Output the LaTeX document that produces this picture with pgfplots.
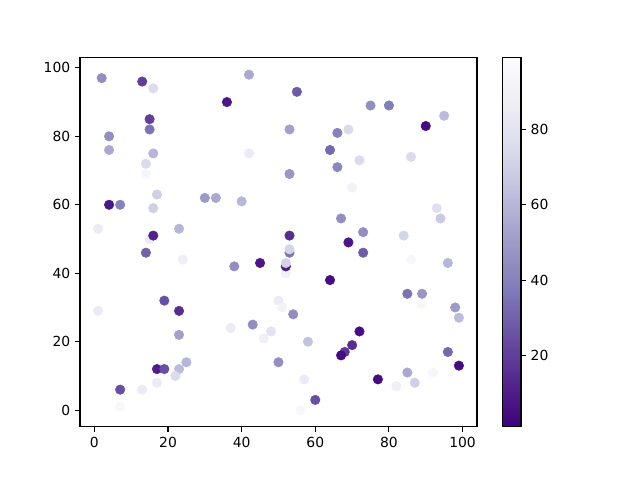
\documentclass[border=0pt]{standalone}
\usepackage{pgfplots}
\pgfplotsset{compat=1.18}
\usepackage{pgfplotstable}
\usepackage{fontspec}
\setmainfont{DejaVu Sans}
\pgfplotstableread{
x y c
2 97 45
13 96 20
16 94 75
42 98 55
36 90 8
15 85 20
15 82 35
4 80 45
4 76 55
16 75 60
42 75 85
14 72 75
14 69 95
17 63 70
16 59 70
4 60 8
7 60 40
30 62 50
33 62 55
40 61 60
1 53 85
23 53 60
15 50 85
16 51 12
55 93 28
75 89 45
80 89 38
95 86 62
90 83 5
53 82 52
66 81 40
69 82 75
64 76 32
72 73 75
86 74 75
66 71 42
53 69 48
70 65 90
93 59 78
94 56 68
67 56 45
73 52 45
84 51 72
53 51 15
69 49 8
14 46 30
24 44 88
38 42 45
45 43 8
50 32 85
51 30 90
1 29 85
19 32 25
23 29 15
23 22 52
37 24 85
43 25 45
48 23 80
46 21 88
50 14 45
17 12 10
19 12 25
23 12 62
25 14 60
22 10 75
17 8 85
13 6 85
7 6 25
7 1 95
73 46 28
53 46 35
53 47 72
52 40 90
52 42 10
52 43 72
86 44 95
96 43 60
64 38 5
85 34 35
89 34 48
89 31 95
98 30 50
99 27 62
54 28 45
58 20 65
72 23 5
70 19 15
68 17 18
67 16 5
96 17 32
99 13 5
77 9 5
85 11 55
87 8 70
92 11 95
82 7 88
57 9 85
60 3 25
56 0 95
}\pts
\begin{document}
\begin{tikzpicture}
\path[use as bounding box] (0,0) rectangle (460.8pt,345.6pt);
\begin{axis}[
  at={(57.6pt,38.2pt)}, anchor=south west,
  scale only axis, width=285.8pt, height=265.7pt,
  xmin=-3.9, xmax=103.9, ymin=-4.9, ymax=102.9,
  xtick={0,20,40,60,80,100}, ytick={0,20,40,60,80,100},
  xtick pos=bottom, ytick pos=left,
  tick align=outside, major tick length=3.5pt,
  tick style={black, line width=0.8pt},
  axis line style={line width=0.8pt},
  every tick label/.append style={font=\fontsize{10}{12}\selectfont},
  /pgf/number format/assume math mode=true,
  colormap={purplesr}{rgb255=(63,0,125) rgb255=(84,39,143) rgb255=(106,81,163) rgb255=(128,125,186) rgb255=(158,154,200) rgb255=(188,189,220) rgb255=(218,218,235) rgb255=(239,237,245) rgb255=(252,251,253)},
  point meta min=1, point meta max=99,
  colorbar,
  colorbar style={
    at={(1.0654,0)}, anchor=south west,
    width=13pt,
    ytick={20,40,60,80},
    ytick pos=right, yticklabel pos=right,
    tick align=outside, major tick length=3.5pt,
    tick style={black, line width=0.8pt},
    axis line style={line width=0.8pt},
    every tick label/.append style={font=\fontsize{10}{12}\selectfont},
    /pgf/number format/assume math mode=true,
  },
]
\addplot[scatter, only marks, mark=*, mark size=3.4pt, scatter src=explicit,
  scatter/use mapped color={draw=mapped color, fill=mapped color}]
  table[x=x, y=y, meta=c] {\pts};
\end{axis}
\end{tikzpicture}
\end{document}
